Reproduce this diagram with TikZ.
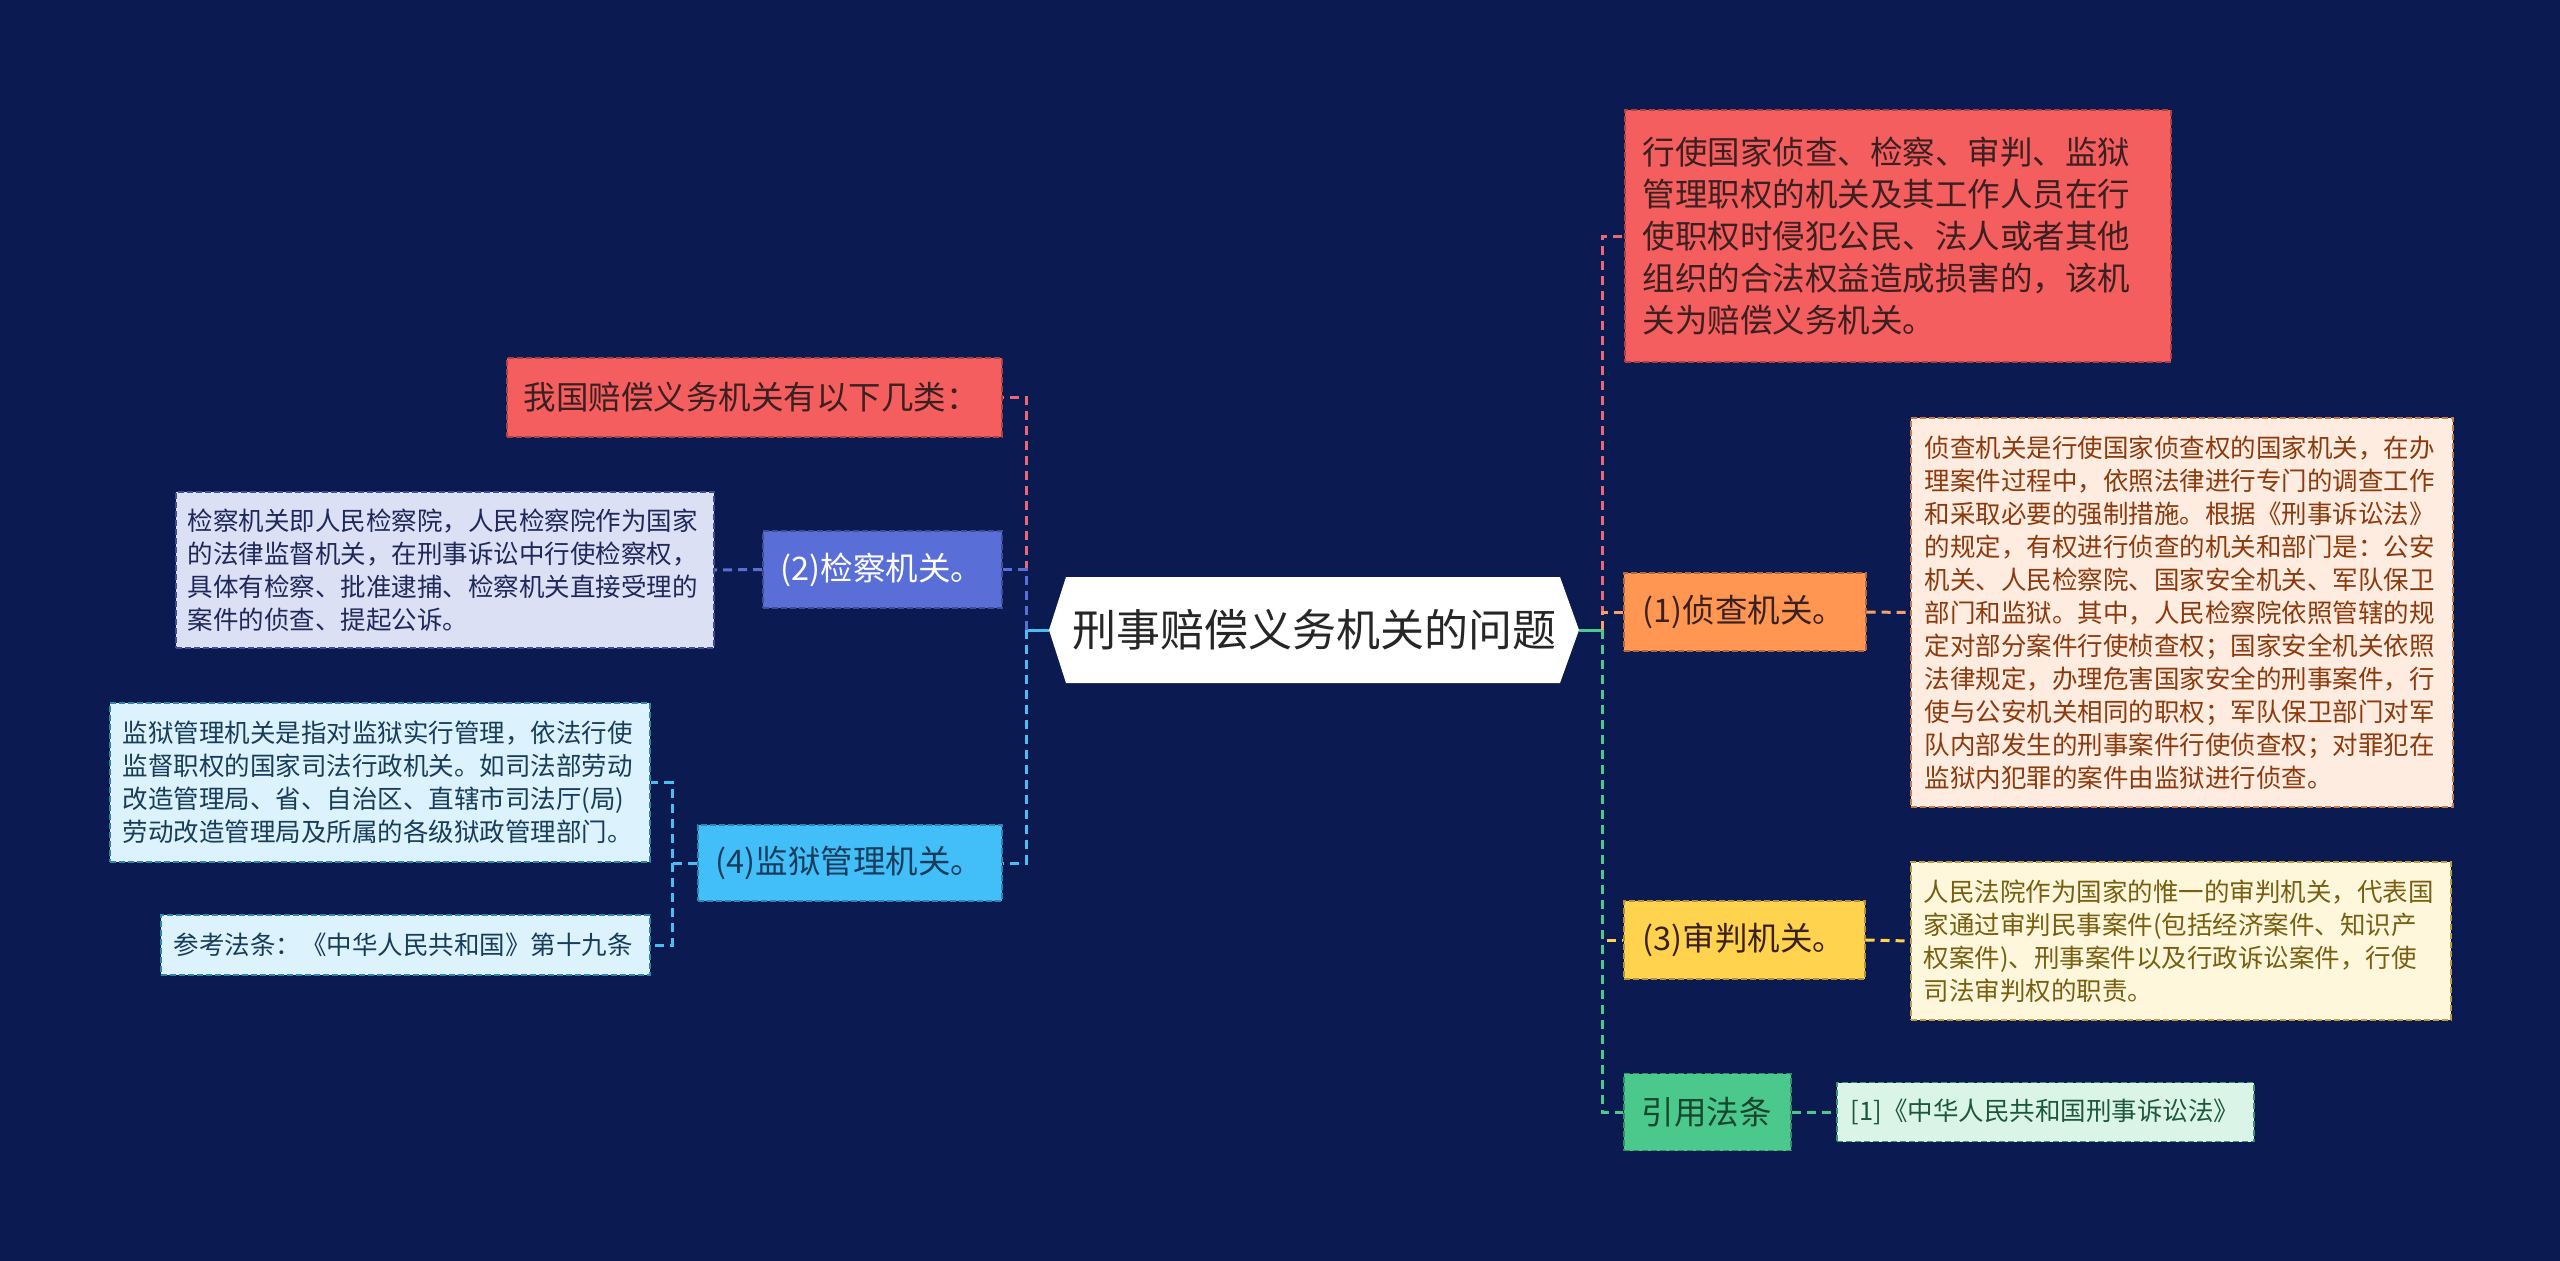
\documentclass[tikz,border=0pt]{standalone}
\usepackage{fontspec}
\setmainfont{Noto Sans CJK SC}
\definecolor{bg}{RGB}{11,27,81}
\definecolor{cRed}{RGB}{245,94,94}
\definecolor{cRedL}{RGB}{232,104,118}
\definecolor{cOra}{RGB}{255,150,82}
\definecolor{cOraL}{RGB}{246,160,112}
\definecolor{cYel}{RGB}{255,211,77}
\definecolor{cGrn}{RGB}{75,200,140}
\definecolor{cBlu}{RGB}{90,110,215}
\definecolor{cSky}{RGB}{66,190,248}
\definecolor{cSkyL}{RGB}{77,188,240}
\definecolor{dOra}{RGB}{255,236,224}
\definecolor{dYel}{RGB}{255,247,220}
\definecolor{dGrn}{RGB}{218,245,232}
\definecolor{dBlu}{RGB}{220,224,245}
\definecolor{dSky}{RGB}{220,242,252}
\definecolor{tRed}{RGB}{58,32,32}
\definecolor{tOra}{RGB}{139,58,14}
\definecolor{tYel}{RGB}{120,94,16}
\definecolor{tGrn}{RGB}{30,88,58}
\definecolor{tBlu}{RGB}{30,40,90}
\definecolor{tSky}{RGB}{24,60,92}
\newcommand\szMain{\fontsize{32.5}{42}\selectfont}
\newcommand\szSmall{\fontsize{25.5}{33}\selectfont}
\newcommand\szTitle{\fontsize{44}{52}\selectfont}
\tikzset{
  box/.style={anchor=west, align=left, inner ysep=0pt, line width=1.5pt, dash pattern=on 6pt off 3pt},
  conn/.style={line width=3pt, dash pattern=on 9pt off 6pt},
}
\begin{document}
\begin{tikzpicture}[x=1pt,y=-1pt]
\useasboundingbox (0,0) rectangle (2560,1261);
\fill[bg] (0,0) rectangle (2560,1261);

% central shape
\fill[white] (1049,630) -- (1066,577) -- (1560,577) -- (1579,630) -- (1560,683) -- (1066,683) -- cycle;
\node[minimum width=530pt, minimum height=106pt, inner sep=0pt, text=black!85, font=\szTitle] (root) at (1314,630) {刑事赔偿义务机关的问题};

% right side
\node[box, fill=cRed, draw=cRed!70!black, text=tRed, font=\szMain, inner xsep=18pt, text width=510pt, minimum height=252pt] (r0) at (1624,236)
 {行使国家侦查、检察、审判、监狱\\管理职权的机关及其工作人员在行\\使职权时侵犯公民、法人或者其他\\组织的合法权益造成损害的，该机\\关为赔偿义务机关。};
\node[box, fill=cOra, draw=cOra!70!black, text=tRed, font=\szMain, inner xsep=19pt, text width=204pt, minimum height=78pt] (n1) at (1623,612) {(1)侦查机关。};
\node[box, fill=dOra, draw=cOra!80!black, text=tOra, font=\szSmall, inner xsep=14pt, text width=514pt, minimum height=389pt] (d1) at (1910,612.5)
 {侦查机关是行使国家侦查权的国家机关，在办\\理案件过程中，依照法律进行专门的调查工作\\和采取必要的强制措施。根据《刑事诉讼法》\\的规定，有权进行侦查的机关和部门是：公安\\机关、人民检察院、国家安全机关、军队保卫\\部门和监狱。其中，人民检察院依照管辖的规\\定对部分案件行使桢查权；国家安全机关依照\\法律规定，办理危害国家安全的刑事案件，行\\使与公安机关相同的职权；军队保卫部门对军\\队内部发生的刑事案件行使侦查权；对罪犯在\\监狱内犯罪的案件由监狱进行侦查。};
\node[box, fill=cYel, draw=cYel!70!black, text=tRed, font=\szMain, inner xsep=19pt, text width=203pt, minimum height=78pt] (n3) at (1623,940) {(3)审判机关。};
\node[box, fill=dYel, draw=cYel!75!black, text=tYel, font=\szSmall, inner xsep=13pt, text width=514pt, minimum height=158pt] (d3) at (1910,941)
 {人民法院作为国家的惟一的审判机关，代表国\\家通过审判民事案件(包括经济案件、知识产\\权案件)、刑事案件以及行政诉讼案件，行使\\司法审判权的职责。};
\node[box, fill=cGrn, draw=cGrn!70!black, text=tGrn!80!black, font=\szMain, inner xsep=18pt, text width=131pt, minimum height=77pt] (ref) at (1623,1112) {引用法条};
\node[box, fill=dGrn, draw=cGrn!75!black, text=tGrn, font=\szSmall, inner xsep=14pt, text width=389pt, minimum height=59pt] (refd) at (1836,1112) {[1]《中华人民共和国刑事诉讼法》};

% left side
\node[box, fill=cRed, draw=cRed!70!black, text=tRed, font=\szMain, inner xsep=17pt, text width=461pt, minimum height=79pt] (l0) at (506,397.5) {我国赔偿义务机关有以下几类：};
\node[box, fill=cBlu, draw=cBlu!70!black, text=white, font=\szMain, inner xsep=18pt, text width=203pt, minimum height=77pt] (n2) at (762,569.5) {(2)检察机关。};
\node[box, fill=dBlu, draw=cBlu!70!black, text=tBlu, font=\szSmall, inner xsep=12pt, text width=514pt, minimum height=156pt] (d2) at (175,570)
 {检察机关即人民检察院，人民检察院作为国家\\的法律监督机关，在刑事诉讼中行使检察权，\\具体有检察、批准逮捕、检察机关直接受理的\\案件的侦查、提起公诉。};
\node[box, fill=cSky, draw=cSky!70!black, text=tSky, font=\szMain, inner xsep=18pt, text width=268pt, minimum height=76pt] (n4) at (697,863) {(4)监狱管理机关。};
\node[box, fill=dSky, draw=cSky!70!black, text=tSky, font=\szSmall, inner xsep=13pt, text width=514pt, minimum height=159pt] (d4a) at (109,782.5)
 {监狱管理机关是指对监狱实行管理，依法行使\\监督职权的国家司法行政机关。如司法部劳动\\改造管理局、省、自治区、直辖市司法厅(局)\\劳动改造管理局及所属的各级狱政管理部门。};
\node[box, fill=dSky, draw=cSky!70!black, text=tSky, font=\szSmall, inner xsep=13pt, text width=463pt, minimum height=60pt] (d4b) at (160,945) {参考法条：《中华人民共和国》第十九条};

% junctions
\coordinate (Lj) at (1026,630);
\coordinate (Rj) at (1602,630);
\coordinate (J4) at (672,863);

% connectors right
\draw[cGrn, line width=3pt] (root.east) -- (Rj);
\draw[conn, cRedL] (Rj) |- (r0.west);
\draw[conn, cOraL] (Rj) |- (n1.west);
\draw[conn, cYel] (Rj) |- (n3.west);
\draw[conn, cGrn] (Rj) |- (ref.west);
\draw[conn, cOraL] (n1.east) -- (d1.west);
\draw[conn, cYel] (n3.east) -- (d3.west);
\draw[conn, cGrn] (ref.east) -- (refd.west);

% connectors left
\draw[cSkyL, line width=3pt] (root.west) -- (Lj);
\draw[conn, cRedL] (Lj) |- (l0.east);
\draw[conn, cBlu] (Lj) |- (n2.east);
\draw[conn, cSkyL] (Lj) |- (n4.east);
\draw[conn, cBlu] (n2.west) -- (d2.east);
\draw[conn, cSkyL] (n4.west) -- (J4) |- (d4a.east);
\draw[conn, cSkyL] (J4) |- (d4b.east);
\end{tikzpicture}
\end{document}
